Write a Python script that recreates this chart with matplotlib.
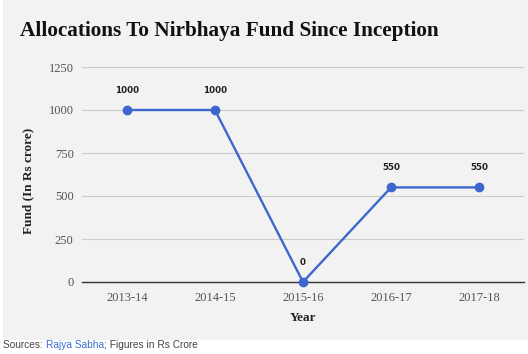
import matplotlib
matplotlib.use("Agg")
import matplotlib.pyplot as plt
from matplotlib.patches import Rectangle

years = ["2013-14", "2014-15", "2015-16", "2016-17", "2017-18"]
funds = [1000, 1000, 0, 550, 550]
yticks = [0, 250, 500, 750, 1000, 1250]

fig = plt.figure(figsize=(5.28, 3.54), dpi=100)
fig.patch.set_facecolor("white")
fig.patches.append(Rectangle((3/528, 14/354), 1, 1, transform=fig.transFigure,
                             facecolor="#f2f2f2", edgecolor="none", zorder=-10))

ax = fig.add_axes([82/528, 1-282/354, 442/528, 215/354])
ax.set_facecolor("none")
x = list(range(len(years)))
ax.plot(x, funds, color="#3d66cf", lw=1.7, marker="o", ms=6, clip_on=False, zorder=5)
for xi, v in zip(x, funds):
    ax.annotate(str(v), (xi, v), xytext=(0, 11), textcoords="offset points",
                ha="center", va="bottom", fontsize=6.3, color="#222222",
                family="DejaVu Sans", weight="semibold")

ax.set_xlim(-0.51, 4.51)
ax.set_ylim(0, 1250)
ax.set_yticks(yticks)
ax.set_xticks(x)
ax.set_xticklabels(years)
ax.grid(axis="y", color="#cccccc", lw=0.8)
ax.set_axisbelow(True)
for s in ["left", "right", "top"]:
    ax.spines[s].set_visible(False)
ax.spines["bottom"].set_color("#333333")
ax.spines["bottom"].set_linewidth(1)
ax.tick_params(axis="both", length=0, labelsize=9, labelcolor="#555555")
ax.tick_params(axis="y", pad=6)
ax.tick_params(axis="x", pad=7)
for lab in ax.get_xticklabels() + ax.get_yticklabels():
    lab.set_family("Liberation Serif")

ax.set_xlabel("Year", family="Liberation Serif", weight="bold", fontsize=9.5, color="#222222")
ax.xaxis.set_label_coords(0.5, -30/215)
ax.set_ylabel("Fund (In Rs crore)", family="Liberation Serif", weight="bold", fontsize=9.5, color="#222222")
ax.yaxis.set_label_coords((34-82)/442, (282-181)/215)

fig.text(20/528, 1-36/354, "Allocations To Nirbhaya Fund Since Inception",
         family="Liberation Serif", weight="bold", fontsize=15.3, color="#111111", va="baseline")

base = 1-348/354
fs = 7.3
t1 = fig.text(3/528, base, "Sources: ", family="Liberation Sans", fontsize=fs, color="#444444", va="baseline")
fig.canvas.draw()
bb = t1.get_window_extent()
t2 = fig.text(bb.x1/528, base, "Rajya Sabha", family="Liberation Sans", fontsize=fs, color="#3b6fd1", va="baseline")
bb2 = t2.get_window_extent()
fig.text(bb2.x1/528, base, "; Figures in Rs Crore", family="Liberation Sans", fontsize=fs, color="#444444", va="baseline")

fig.savefig("out.png", dpi=100)
